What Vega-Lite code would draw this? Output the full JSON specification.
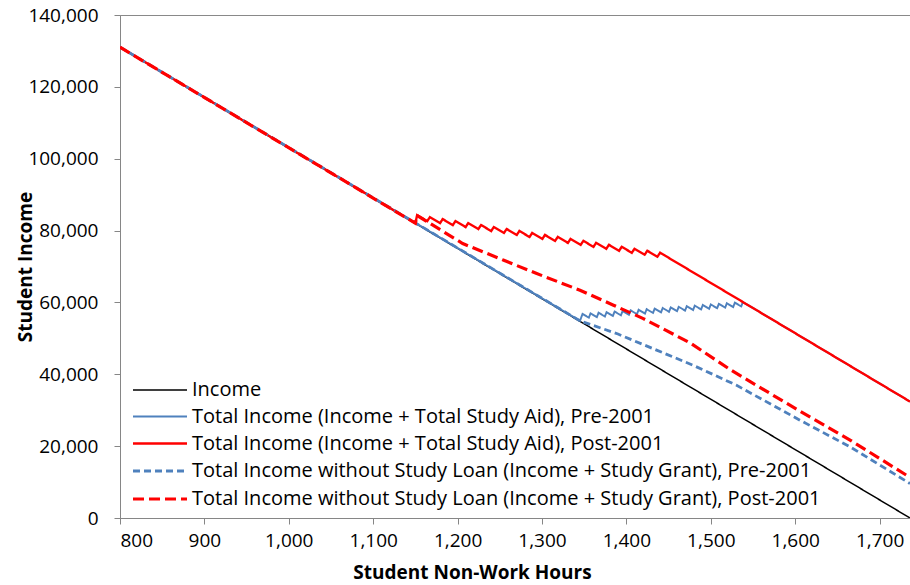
{
  "$schema": "https://vega.github.io/schema/vega-lite/v6.json",
  "width": 790,
  "height": 503,
  "autosize": {"type": "none"},
  "padding": {"left": 120, "top": 15, "right": 0, "bottom": 67},
  "background": "white",
  "config": {
    "view": {"stroke": "#898989", "strokeWidth": 1},
    "font": "Open Sans",
    "axis": {
      "domainColor": "#868686",
      "tickColor": "#868686",
      "tickSize": 6,
      "labelFont": "Open Sans",
      "labelFontSize": 19,
      "labelColor": "#000000",
      "titleFont": "Open Sans",
      "titleFontSize": 19,
      "titleFontWeight": "bold",
      "titleColor": "#000000",
      "grid": false
    },
    "legend": {
      "title": null,
      "orient": "none",
      "legendX": 28,
      "legendY": 364,
      "padding": 0,
      "symbolType": "M -2.7 0 L 2.7 0",
      "symbolSize": 400,
      "labelFont": "Open Sans",
      "labelFontSize": 20,
      "labelColor": "#000000",
      "labelOffset": 20,
      "rowPadding": 5.5,
      "labelLimit": 800
    }
  },
  "data": {
    "values": [
      {"s": "a", "h": 800, "v": 131040},
      {"s": "a", "h": 1736, "v": 0},

      {"s": "b", "h": 800, "v": 131040},
      {"s": "b", "h": 1345, "v": 54880},
      {"s": "b", "h": 1348, "v": 56800},
      {"s": "b", "h": 1355.5, "v": 55750},
      {"s": "b", "h": 1357.5, "v": 56965},
      {"s": "b", "h": 1365, "v": 55915},
      {"s": "b", "h": 1367, "v": 57130},
      {"s": "b", "h": 1374.5, "v": 56080},
      {"s": "b", "h": 1376.5, "v": 57295},
      {"s": "b", "h": 1384, "v": 56245},
      {"s": "b", "h": 1386, "v": 57460},
      {"s": "b", "h": 1393.5, "v": 56410},
      {"s": "b", "h": 1395.5, "v": 57625},
      {"s": "b", "h": 1403, "v": 56575},
      {"s": "b", "h": 1405, "v": 57790},
      {"s": "b", "h": 1412.5, "v": 56740},
      {"s": "b", "h": 1414.5, "v": 57955},
      {"s": "b", "h": 1422, "v": 56905},
      {"s": "b", "h": 1424, "v": 58120},
      {"s": "b", "h": 1431.5, "v": 57070},
      {"s": "b", "h": 1433.5, "v": 58285},
      {"s": "b", "h": 1441, "v": 57235},
      {"s": "b", "h": 1443, "v": 58450},
      {"s": "b", "h": 1450.5, "v": 57400},
      {"s": "b", "h": 1452.5, "v": 58615},
      {"s": "b", "h": 1460, "v": 57565},
      {"s": "b", "h": 1462, "v": 58780},
      {"s": "b", "h": 1469.5, "v": 57730},
      {"s": "b", "h": 1471.5, "v": 58945},
      {"s": "b", "h": 1479, "v": 57895},
      {"s": "b", "h": 1481, "v": 59110},
      {"s": "b", "h": 1488.5, "v": 58060},
      {"s": "b", "h": 1490.5, "v": 59275},
      {"s": "b", "h": 1498, "v": 58225},
      {"s": "b", "h": 1500, "v": 59440},
      {"s": "b", "h": 1507.5, "v": 58390},
      {"s": "b", "h": 1509.5, "v": 59605},
      {"s": "b", "h": 1517, "v": 58555},
      {"s": "b", "h": 1519, "v": 59770},
      {"s": "b", "h": 1526.5, "v": 58720},
      {"s": "b", "h": 1528.5, "v": 59935},
      {"s": "b", "h": 1536, "v": 58885},
      {"s": "b", "h": 1538, "v": 60100},
      {"s": "b", "h": 1736, "v": 32400},

      {"s": "c", "h": 800, "v": 131040},
      {"s": "c", "h": 1150, "v": 82040},
      {"s": "c", "h": 1152, "v": 84300},
      {"s": "c", "h": 1164, "v": 82620},
      {"s": "c", "h": 1167.2, "v": 83750},
      {"s": "c", "h": 1179.2, "v": 82070},
      {"s": "c", "h": 1182.3, "v": 83199},
      {"s": "c", "h": 1194.3, "v": 81519},
      {"s": "c", "h": 1197.5, "v": 82649},
      {"s": "c", "h": 1209.5, "v": 80969},
      {"s": "c", "h": 1212.6, "v": 82098},
      {"s": "c", "h": 1224.6, "v": 80418},
      {"s": "c", "h": 1227.8, "v": 81548},
      {"s": "c", "h": 1239.8, "v": 79868},
      {"s": "c", "h": 1242.9, "v": 80997},
      {"s": "c", "h": 1254.9, "v": 79317},
      {"s": "c", "h": 1258.1, "v": 80447},
      {"s": "c", "h": 1270.1, "v": 78767},
      {"s": "c", "h": 1273.2, "v": 79896},
      {"s": "c", "h": 1285.2, "v": 78216},
      {"s": "c", "h": 1288.4, "v": 79346},
      {"s": "c", "h": 1300.4, "v": 77666},
      {"s": "c", "h": 1303.5, "v": 78795},
      {"s": "c", "h": 1315.5, "v": 77115},
      {"s": "c", "h": 1318.7, "v": 78245},
      {"s": "c", "h": 1330.7, "v": 76565},
      {"s": "c", "h": 1333.8, "v": 77694},
      {"s": "c", "h": 1345.8, "v": 76014},
      {"s": "c", "h": 1349.0, "v": 77144},
      {"s": "c", "h": 1361.0, "v": 75464},
      {"s": "c", "h": 1364.1, "v": 76593},
      {"s": "c", "h": 1376.1, "v": 74913},
      {"s": "c", "h": 1379.3, "v": 76043},
      {"s": "c", "h": 1391.3, "v": 74363},
      {"s": "c", "h": 1394.4, "v": 75492},
      {"s": "c", "h": 1406.4, "v": 73812},
      {"s": "c", "h": 1409.6, "v": 74942},
      {"s": "c", "h": 1421.6, "v": 73262},
      {"s": "c", "h": 1424.7, "v": 74391},
      {"s": "c", "h": 1436.7, "v": 72711},
      {"s": "c", "h": 1439.9, "v": 73841},
      {"s": "c", "h": 1736, "v": 32400},

      {"s": "d", "h": 800, "v": 131040},
      {"s": "d", "h": 1345, "v": 54880},
      {"s": "d", "h": 1390, "v": 51200},
      {"s": "d", "h": 1435, "v": 46800},
      {"s": "d", "h": 1480, "v": 42400},
      {"s": "d", "h": 1530, "v": 37000},
      {"s": "d", "h": 1605, "v": 27300},
      {"s": "d", "h": 1665, "v": 19800},
      {"s": "d", "h": 1736, "v": 9600},

      {"s": "e", "h": 800, "v": 131040},
      {"s": "e", "h": 1150, "v": 82040},
      {"s": "e", "h": 1152, "v": 84200},
      {"s": "e", "h": 1206, "v": 76400},
      {"s": "e", "h": 1254, "v": 71800},
      {"s": "e", "h": 1293, "v": 68100},
      {"s": "e", "h": 1345, "v": 63400},
      {"s": "e", "h": 1384, "v": 59300},
      {"s": "e", "h": 1420, "v": 55500},
      {"s": "e", "h": 1475, "v": 48800},
      {"s": "e", "h": 1525, "v": 41000},
      {"s": "e", "h": 1600, "v": 30500},
      {"s": "e", "h": 1665, "v": 21700},
      {"s": "e", "h": 1736, "v": 11300}
    ]
  },
  "mark": {"type": "line", "clip": true},
  "encoding": {
    "x": {
      "field": "h",
      "type": "quantitative",
      "scale": {"domain": [800, 1736], "nice": false, "zero": false},
      "axis": {
        "values": [800, 900, 1000, 1100, 1200, 1300, 1400, 1500, 1600, 1700],
        "format": ",d",
        "title": "Student Non-Work Hours",
        "labelPadding": 7,
        "titleX": 352,
        "titleY": 54,
        "titleAlign": "center",
        "titleBaseline": "middle"
      }
    },
    "y": {
      "field": "v",
      "type": "quantitative",
      "scale": {"domain": [0, 140000], "nice": false},
      "axis": {
        "values": [0, 20000, 40000, 60000, 80000, 100000, 120000, 140000],
        "format": ",d",
        "title": "Student Income",
        "labelPadding": 16,
        "titleX": -95,
        "titleY": 251.5,
        "titleAngle": -90,
        "titleAlign": "center",
        "titleBaseline": "middle"
      }
    },
    "color": {
      "field": "s",
      "type": "nominal",
      "scale": {"domain": ["a", "b", "c", "d", "e"], "range": ["#000000", "#4F81BD", "#FF0000", "#4F81BD", "#FF0000"]},
      "legend": {
        "labelExpr": "datum.label == 'a' ? 'Income' : datum.label == 'b' ? 'Total Income (Income + Total Study Aid), Pre-2001' : datum.label == 'c' ? 'Total Income (Income + Total Study Aid), Post-2001' : datum.label == 'd' ? 'Total Income without Study Loan (Income + Study Grant), Pre-2001' : 'Total Income without Study Loan (Income + Study Grant), Post-2001'"
      }
    },
    "strokeDash": {
      "field": "s",
      "type": "nominal",
      "scale": {"domain": ["a", "b", "c", "d", "e"], "range": [[1, 0], [1, 0], [1, 0], [7, 4], [11, 5]]},
      "legend": {
        "labelExpr": "datum.label == 'a' ? 'Income' : datum.label == 'b' ? 'Total Income (Income + Total Study Aid), Pre-2001' : datum.label == 'c' ? 'Total Income (Income + Total Study Aid), Post-2001' : datum.label == 'd' ? 'Total Income without Study Loan (Income + Study Grant), Pre-2001' : 'Total Income without Study Loan (Income + Study Grant), Post-2001'"
      }
    },
    "strokeWidth": {
      "field": "s",
      "type": "ordinal",
      "scale": {"domain": ["a", "b", "c", "d", "e"], "range": [1.5, 3.2, 3.2, 3.2, 4.5]},
      "legend": {
        "labelExpr": "datum.label == 'a' ? 'Income' : datum.label == 'b' ? 'Total Income (Income + Total Study Aid), Pre-2001' : datum.label == 'c' ? 'Total Income (Income + Total Study Aid), Post-2001' : datum.label == 'd' ? 'Total Income without Study Loan (Income + Study Grant), Pre-2001' : 'Total Income without Study Loan (Income + Study Grant), Post-2001'"
      }
    }
  }
}
